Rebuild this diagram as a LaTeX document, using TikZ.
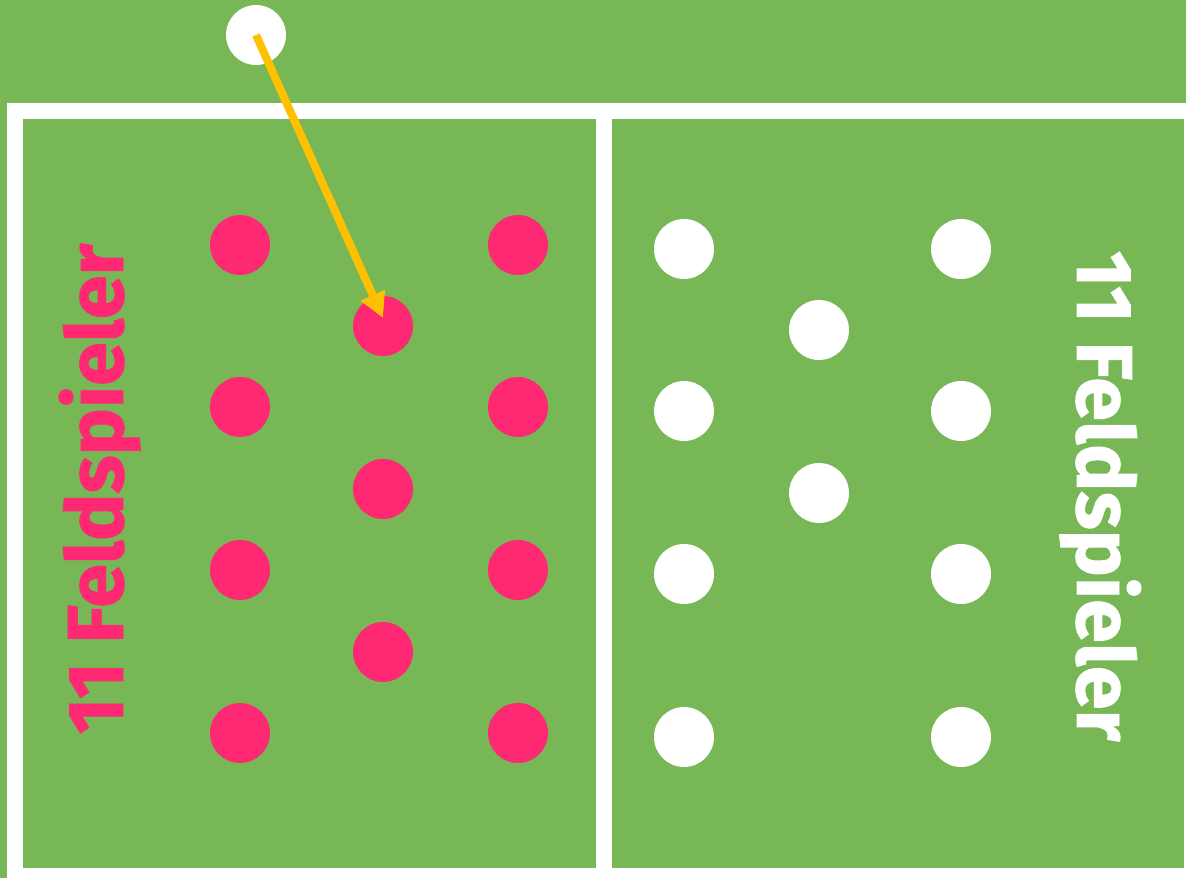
\documentclass[tikz,border=0pt]{standalone}
\usepackage{fontspec}
\setmainfont{Fira Sans}[BoldFeatures={FakeBold=1.2}]
\usepackage{tikz}
\usetikzlibrary{arrows.meta}

\definecolor{pitch}{HTML}{77B755}
\definecolor{home}{HTML}{FF2873}
\definecolor{pass}{HTML}{FFC000}

\begin{document}
\begin{tikzpicture}[
    x=0.02cm, y=-0.02cm,
    pl/.style={circle, minimum size=1.2cm, inner sep=0pt},
    hm/.style={pl, fill=home},
    gs/.style={pl, fill=white},
    e/.style={pass, line width=0.16cm, -{Triangle[length=0.5cm, width=0.5cm]}},
    lbl/.style={font=\fontsize{45}{45}\selectfont\bfseries, anchor=base, inner sep=0pt},
  ]
  \useasboundingbox (0,0) rectangle (1186,878);
  % pitch
  \fill[pitch] (0,0) rectangle (1186,878);
  \fill[white] (7,103) rectangle (1186,878);
  \fill[pitch] (23,119) rectangle (596,868);
  \fill[pitch] (612,119) rectangle (1184,868);
  % ball
  \node[gs] (ball) at (256,35) {};
  % left team
  \node[hm] (h1) at (240,245) {};
  \node[hm] (h2) at (518,245) {};
  \node[hm] (h3) at (383,326) {};
  \node[hm] (h4) at (240,407) {};
  \node[hm] (h5) at (518,407) {};
  \node[hm] (h6) at (383,489) {};
  \node[hm] (h7) at (240,570) {};
  \node[hm] (h8) at (518,570) {};
  \node[hm] (h9) at (383,652) {};
  \node[hm] (h10) at (240,733) {};
  \node[hm] (h11) at (518,733) {};
  % right team
  \node[gs] (g1) at (684,249) {};
  \node[gs] (g2) at (961,249) {};
  \node[gs] (g3) at (819,330) {};
  \node[gs] (g4) at (684,411) {};
  \node[gs] (g5) at (961,411) {};
  \node[gs] (g6) at (819,493) {};
  \node[gs] (g7) at (684,574) {};
  \node[gs] (g8) at (961,574) {};
  \node[gs] (g9) at (684,737) {};
  \node[gs] (g10) at (961,737) {};
  % labels
  \node[lbl, home, rotate=90] (homelbl) at (123,489) {11 Feldspieler};
  \node[lbl, white, rotate=-90] (guestlbl) at (1077,496) {11 Feldspieler};
  % pass
  \coordinate (tip) at (383,318);
  \draw[e] (ball.center) -- (tip);
\end{tikzpicture}
\end{document}
